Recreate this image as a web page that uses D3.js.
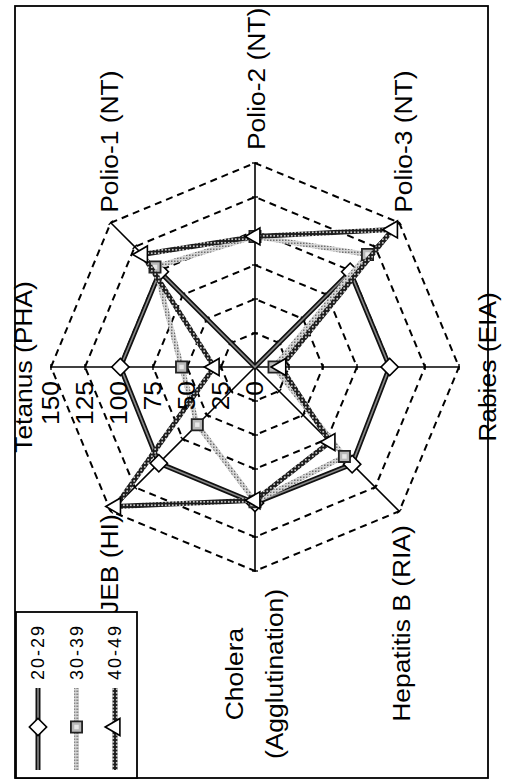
<!DOCTYPE html>
<html>
<head>
<meta charset="utf-8">
<script src="https://cdn.jsdelivr.net/npm/d3@7"></script>
<style>
  body { margin: 0; background: #fff; }
  text { font-family: "Liberation Sans", Arial, sans-serif; fill: #000; }
</style>
</head>
<body>
<div id="radar"></div>
<script>

var categories = ["Tetanus (PHA)", "Polio-1 (NT)", "Polio-2 (NT)", "Polio-3 (NT)", "Rabies (EIA)", "Hepatitis B (RIA)", "Cholera\n(Agglutination)", "JEB (HI)"];
var seriesNames = ["20-29", "30-39", "40-49"];
var age20 = [99, 99, null, 99, 99, 101, 100, 100];
var age30 = [54, 104, 96, 117, 14, 93, 99, 60];
var age40 = [30, 117, 96, 143, 19, 78, 98, 145];
var tickValues = [0, 25, 50, 75, 100, 125, 150];

var W = 508, H = 782;
// the chart is drawn upright (782 wide, 508 tall) then turned a quarter to the left
var cx = 415, cy = 255, R = 204;

var r = d3.scaleLinear().domain([0, 150]).range([0, R]);
var angle = d3.scaleLinear().domain([0, categories.length]).range([0, 2 * Math.PI]);

// where each category label sits relative to its axis end
var labelPos = [
  {dx: 0, dy: -19, anchor: "middle"},
  {dx: 10, dy: 7, anchor: "start"},
  {dx: 13, dy: 10, anchor: "start"},
  {dx: 10, dy: 13, anchor: "start"},
  {dx: 0, dy: 37, anchor: "middle"},
  {dx: -14, dy: 11, anchor: "end"},
  {dx: -103, dy: -12, anchor: "middle"},
  {dx: -3, dy: 7, anchor: "end"}
];

var svg = d3.select("#radar")
  .append("svg")
  .attr("width", W)
  .attr("height", H);

var defs = svg.append("defs");

var p30 = defs.append("pattern")
  .attr("id", "hatch30")
  .attr("patternUnits", "userSpaceOnUse")
  .attr("width", 3).attr("height", 3);
p30.append("rect").attr("width", 3).attr("height", 3).attr("fill", "#d6d6d6");
p30.append("rect").attr("width", 1.5).attr("height", 1.5).attr("fill", "#6e6e6e");

var p40 = defs.append("pattern")
  .attr("id", "chain40")
  .attr("patternUnits", "userSpaceOnUse")
  .attr("width", 3.5).attr("height", 3.5);
p40.append("rect").attr("width", 3.5).attr("height", 3.5).attr("fill", "#1c1c1c");
p40.append("circle").attr("cx", 1.75).attr("cy", 1.75).attr("r", 0.9).attr("fill", "#fff");

var chart = svg.append("g")
  .attr("transform", "translate(0," + H + ") rotate(-90)");

var plot = chart.append("g")
  .attr("transform", "translate(" + cx + "," + cy + ")");

// dashed octagons
var gridLine = d3.lineRadial()
  .angle(function(d, i) { return angle(i); })
  .radius(function(d) { return r(d); })
  .curve(d3.curveLinearClosed);

plot.selectAll(".grid")
  .data(tickValues.filter(function(t) { return t > 0; }))
  .enter().append("path")
  .attr("class", "grid")
  .attr("d", function(t) { return gridLine(categories.map(function() { return t; })); })
  .attr("fill", "none")
  .attr("stroke", "#000")
  .attr("stroke-width", 2)
  .attr("stroke-dasharray", "7,5");

// spokes with small ticks
categories.forEach(function(c, i) {
  var end = d3.pointRadial(angle(i), r(150));
  plot.append("line")
    .attr("x1", 0).attr("y1", 0)
    .attr("x2", end[0]).attr("y2", end[1])
    .attr("stroke", "#000")
    .attr("stroke-width", 1.6);

  tickValues.slice(1).forEach(function(t) {
    var p = d3.pointRadial(angle(i), r(t));
    var nx = Math.cos(angle(i)) * 3, ny = Math.sin(angle(i)) * 3;
    plot.append("line")
      .attr("x1", p[0] - nx).attr("y1", p[1] - ny)
      .attr("x2", p[0] + nx).attr("y2", p[1] + ny)
      .attr("stroke", "#000")
      .attr("stroke-width", 1.4);
  });
});

// series
var seriesLine = d3.lineRadial()
  .angle(function(d, i) { return angle(i); })
  .radius(function(d) { return r(d == null ? 0 : d); })
  .curve(d3.curveLinearClosed);

var series = [
  {name: seriesNames[0], values: age20, marker: "diamond"},
  {name: seriesNames[1], values: age30, marker: "square"},
  {name: seriesNames[2], values: age40, marker: "triangle"}
];

function strokeSeries(sel, k) {
  // draws the line look of a series onto a selection of paths/lines
  if (k == 0) {
    sel.append("path").attr("class", "base").attr("stroke", "#111").attr("stroke-width", 5);
    sel.append("path").attr("class", "core").attr("stroke", "#8a8a8a").attr("stroke-width", 1.6);
  } else if (k == 1) {
    sel.append("path").attr("class", "base").attr("stroke", "url(#hatch30)").attr("stroke-width", 5);
  } else {
    sel.append("path").attr("class", "base").attr("stroke", "url(#chain40)").attr("stroke-width", 5);
  }
  sel.selectAll("path").attr("fill", "none").attr("stroke-linejoin", "miter");
}

function drawMarker(sel, type) {
  if (type == "diamond") {
    sel.append("path")
      .attr("d", d3.symbol(d3.symbolSquare, 150)())
      .attr("transform", "rotate(45)")
      .attr("fill", "#fff").attr("stroke", "#000").attr("stroke-width", 1.6);
  } else if (type == "square") {
    sel.append("path")
      .attr("d", d3.symbol(d3.symbolSquare, 125)())
      .attr("fill", "#b8b8b8").attr("stroke", "#222").attr("stroke-width", 1.8);
    sel.append("path")
      .attr("d", d3.symbol(d3.symbolSquare, 20)())
      .attr("fill", "#e8e8e8");
  } else {
    sel.append("path")
      .attr("d", d3.symbol(d3.symbolTriangle, 125)())
      .attr("fill", "#fff").attr("stroke", "#000").attr("stroke-width", 1.6);
  }
}

series.forEach(function(s, k) {
  var g = plot.append("g").attr("class", "series");
  strokeSeries(g, k);
  g.selectAll("path").attr("d", seriesLine(s.values));

  var pts = s.values.map(function(v, i) { return {v: v, i: i}; })
    .filter(function(d) { return d.v != null; });

  g.selectAll(".mk")
    .data(pts)
    .enter().append("g")
    .attr("class", "mk")
    .attr("transform", function(d) {
      var p = d3.pointRadial(angle(d.i), r(d.v));
      return "translate(" + p[0] + "," + p[1] + ")";
    })
    .each(function() { drawMarker(d3.select(this), s.marker); });
});

// value labels along the first spoke
plot.selectAll(".tick")
  .data(tickValues)
  .enter().append("text")
  .attr("class", "tick")
  .attr("transform", function(t) { return "translate(-14," + (-r(t)) + ") scale(1.1,1)"; })
  .attr("text-anchor", "end")
  .attr("dy", "0.35em")
  .style("font-size", "24px")
  .text(function(t) { return t; });

// category labels
categories.forEach(function(c, i) {
  var end = d3.pointRadial(angle(i), r(150));
  var lp = labelPos[i];
  var lines = c.split("\n");
  lines.forEach(function(line, j) {
    plot.append("text")
      .attr("transform", "translate(" + (end[0] + lp.dx) + "," + (end[1] + lp.dy + j * 40) + ") scale(1.1,1)")
      .attr("text-anchor", lp.anchor)
      .style("font-size", "24px")
      .text(line);
  });
});

// plot frame
chart.append("rect")
  .attr("x", 4).attr("y", 15)
  .attr("width", 772).attr("height", 473)
  .attr("fill", "none")
  .attr("stroke", "#000")
  .attr("stroke-width", 1.8);

// legend
var legend = chart.append("g").attr("class", "legend");
legend.append("rect")
  .attr("x", 4).attr("y", 16)
  .attr("width", 166).attr("height", 121)
  .attr("fill", "#fff")
  .attr("stroke", "#000")
  .attr("stroke-width", 1.8);

var rowY = d3.scalePoint().domain(seriesNames).range([38, 115]);

series.forEach(function(s, k) {
  var row = legend.append("g")
    .attr("transform", "translate(0," + rowY(s.name) + ")");
  var lg = row.append("g");
  strokeSeries(lg, k);
  lg.selectAll("path").attr("d", "M12,0L94,0");
  var m = row.append("g").attr("transform", "translate(55,0)");
  drawMarker(m, s.marker);
  row.append("text")
    .attr("x", 102)
    .attr("dy", "0.35em")
    .style("font-size", "18px")
    .style("letter-spacing", "2px")
    .text(s.name);
});

</script>
</body>
</html>
